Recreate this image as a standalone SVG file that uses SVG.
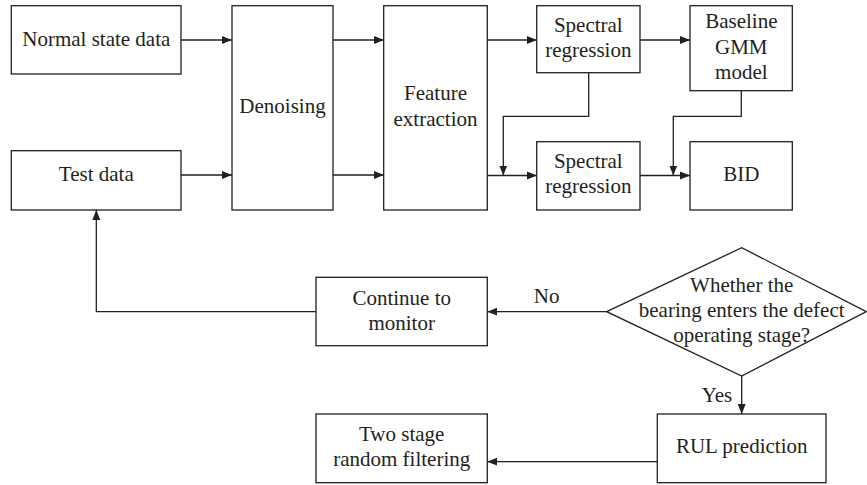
<svg xmlns="http://www.w3.org/2000/svg" width="867" height="485" viewBox="0 0 867 485" font-family="'Liberation Serif', 'Times New Roman', serif">
<style>
.b{fill:#fff;stroke:#231f20;stroke-width:1.3}
.t{font-family:'Liberation Serif','Times New Roman',serif;font-size:21px;fill:#231f20;text-anchor:middle}
.c{fill:none;stroke:#231f20;stroke-width:1.3}
</style>
<defs>
<marker id="a" viewBox="0 0 10 10" refX="10" refY="5" markerWidth="10" markerHeight="10" markerUnits="userSpaceOnUse" orient="auto">
<path d="M0,1 L10,5 L0,9 Z" fill="#231f20"/>
</marker>
</defs>
<rect width="867" height="485" fill="#fff"/>
<g id="connectors">
<path class="c" d="M181,40 H232" marker-end="url(#a)"/>
<path class="c" d="M181,175 H232" marker-end="url(#a)"/>
<path class="c" d="M333,40 H384" marker-end="url(#a)"/>
<path class="c" d="M333,175 H384" marker-end="url(#a)"/>
<path class="c" d="M487,40 H537" marker-end="url(#a)"/>
<path class="c" d="M640,40 H690" marker-end="url(#a)"/>
<path class="c" d="M487,175.5 H537" marker-end="url(#a)"/>
<path class="c" d="M640,175.5 H690" marker-end="url(#a)"/>
<path class="c" d="M588.7,73 V116.3 H503.3 V175.5" marker-end="url(#a)"/>
<path class="c" d="M741.3,91 V116.3 H673.3 V175.5" marker-end="url(#a)"/>
<path class="c" d="M316,311.7 H96.3 V210" marker-end="url(#a)"/>
<path class="c" d="M606.7,311.7 H487.3" marker-end="url(#a)"/>
<path class="c" d="M741.7,376 V414" marker-end="url(#a)"/>
<path class="c" d="M657.3,461.7 H487.3" marker-end="url(#a)"/>
<text class="t" x="546.7" y="302.7">No</text>
<text class="t" x="717" y="401.7">Yes</text>
</g>
<g id="normal">
<rect class="b" x="11.3" y="5.7" width="169.7" height="68.3"/>
<text class="t" x="96.3" y="45.5">Normal state data</text>
</g>
<g id="test">
<rect class="b" x="11.3" y="150.7" width="169.7" height="59.3"/>
<text class="t" x="96.3" y="180.5">Test data</text>
</g>
<g id="denoising">
<rect class="b" x="232" y="5.7" width="101" height="204.3"/>
<text class="t" x="282.5" y="112.7">Denoising</text>
</g>
<g id="feature">
<rect class="b" x="383.7" y="5.7" width="103.6" height="204.3"/>
<text class="t" x="435.5" y="100">Feature</text>
<text class="t" x="435.5" y="125.5">extraction</text>
</g>
<g id="sr1">
<rect class="b" x="536.7" y="5.7" width="103.3" height="67"/>
<text class="t" x="588.3" y="31.7">Spectral</text>
<text class="t" x="588.3" y="56.5">regression</text>
</g>
<g id="gmm">
<rect class="b" x="690" y="5.7" width="102.3" height="85"/>
<text class="t" x="741.3" y="28.3">Baseline</text>
<text class="t" x="741.3" y="53.7">GMM</text>
<text class="t" x="741.3" y="79">model</text>
</g>
<g id="sr2">
<rect class="b" x="536.7" y="141.7" width="103.3" height="68.3"/>
<text class="t" x="588.3" y="167.5">Spectral</text>
<text class="t" x="588.3" y="192.5">regression</text>
</g>
<g id="bid">
<rect class="b" x="690" y="141.7" width="102.3" height="68.3"/>
<text class="t" x="741.3" y="181">BID</text>
</g>
<g id="continue">
<rect class="b" x="316" y="277.3" width="171.3" height="68.4"/>
<text class="t" x="401.7" y="305">Continue to</text>
<text class="t" x="401.7" y="330">monitor</text>
</g>
<g id="decision">
<polygon class="b" points="606.7,311.7 741.7,247.7 866.3,311.7 741.7,376"/>
<text class="t" x="741.7" y="291.7">Whether the</text>
<text class="t" x="741.7" y="316.7">bearing enters the defect</text>
<text class="t" x="741.7" y="341.7">operating stage?</text>
</g>
<g id="rul">
<rect class="b" x="657.3" y="414" width="168.7" height="68.7"/>
<text class="t" x="741.7" y="452.7">RUL prediction</text>
</g>
<g id="twostage">
<rect class="b" x="316" y="414" width="171.3" height="68.7"/>
<text class="t" x="401.7" y="440.7">Two stage</text>
<text class="t" x="401.7" y="465.7">random filtering</text>
</g>
</svg>
